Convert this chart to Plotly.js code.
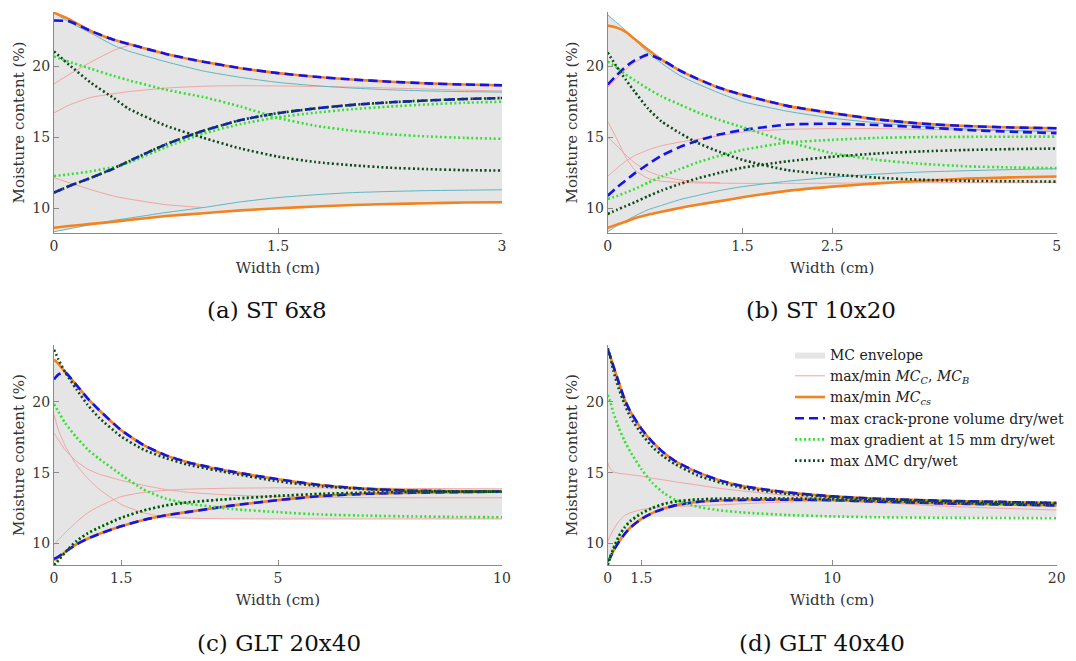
<!DOCTYPE html>
<html><head><meta charset="utf-8">
<script src="https://cdn.plot.ly/plotly-3.0.1.min.js"></script>
<style>html,body{margin:0;padding:0;background:#fff}#chart{width:1076px;height:661px}</style>
</head><body><div id="chart"></div>
<script>
// ---------- Panel (a) ST 6x8 ----------
const xA = [0, 0.1, 0.25, 0.4, 0.5, 0.75, 1, 1.25, 1.5, 1.75, 2, 2.25, 2.5, 2.75, 3];
const aEnvUpper = [23.75, 23.3, 22.45, 21.85, 21.55, 20.85, 20.3, 19.85, 19.5, 19.25, 19.05, 18.9, 18.78, 18.7, 18.65];
const aEnvLower = [8.35, 8.55, 8.85, 9.05, 9.18, 9.45, 9.65, 9.85, 10.0, 10.12, 10.23, 10.3, 10.35, 10.4, 10.42];
const aPink1 = [18.75, 19.4, 20.3, 21.1, 21.45, null, null, null, null, null, null, null, null, null, null];
const aPink2 = [16.7, 17.25, 17.8, 18.05, 18.2, 18.45, 18.58, 18.62, 18.6, 18.57, 18.52, 18.45, 18.38, 18.3, 18.25];
const aPink3 = [12.15, 11.8, 11.3, 10.85, 10.65, 10.25, 10.05, null, null, null, null, null, null, null, null];
const aCyanMax = [23.75, 23.1, 22.3, 21.45, 21.05, 20.3, 19.65, 19.2, 18.85, 18.62, 18.45, 18.33, 18.25, 18.2, 18.17];
const aCyanMin = [8.35, 8.55, 8.85, 9.15, 9.3, 9.7, 10.05, 10.45, 10.75, 10.95, 11.1, 11.18, 11.24, 11.27, 11.3];
const aCsMax = [23.75, 23.3, 22.45, 21.85, 21.55, 20.85, 20.3, 19.85, 19.5, 19.25, 19.05, 18.9, 18.78, 18.7, 18.65];
const aCsMin = [8.63, 8.75, 8.9, 9.05, 9.18, 9.45, 9.65, 9.85, 10.0, 10.12, 10.23, 10.3, 10.35, 10.4, 10.42];
const aCrackDry = [23.2, 23.15, 22.45, 21.85, 21.55, 20.85, 20.3, 19.85, 19.5, 19.25, 19.05, 18.9, 18.78, 18.7, 18.65];
const aCrackWet = [11.1, 11.55, 12.15, 12.8, 13.3, 14.5, 15.45, 16.2, 16.69, 17.02, 17.27, 17.45, 17.58, 17.68, 17.75];
const aGradDry = [20.68, 20.3, 19.8, 19.3, 19.0, 18.33, 17.82, 17.15, 16.35, 15.8, 15.45, 15.2, 15.05, 14.95, 14.88];
const aGradWet = [12.27, 12.38, 12.6, 12.9, 13.2, 14.3, 15.25, 15.92, 16.4, 16.72, 16.97, 17.15, 17.3, 17.42, 17.49];
const aDmcDry = [21.03, 20.1, 18.8, 17.75, 17.0, 15.8, 14.95, 14.2, 13.63, 13.25, 13.02, 12.85, 12.75, 12.68, 12.65];
const aDmcWet = [11.1, 11.55, 12.15, 12.8, 13.3, 14.5, 15.45, 16.2, 16.69, 17.02, 17.27, 17.45, 17.58, 17.68, 17.75];
const aTicks = [0, 1.5, 3];

// ---------- Panel (b) ST 10x20 ----------
const xB = [0, 0.1, 0.2, 0.3, 0.45, 0.6, 0.8, 1, 1.25, 1.5, 2, 2.5, 3, 3.5, 4, 4.5, 5];
const bEnvUpper = [23.6, 23.05, 22.5, 21.9, 21.15, 20.45, 19.7, 19.1, 18.45, 17.98, 17.2, 16.69, 16.25, 15.95, 15.78, 15.68, 15.63];
const bEnvLower = [8.35, 8.75, 9.05, 9.3, 9.55, 9.75, 10.02, 10.25, 10.5, 10.77, 11.22, 11.52, 11.75, 11.78, 11.8, 11.8, 11.8];
const bPink1 = [18.5, 19.15, 19.75, 20.25, 20.75, null, null, null, null, null, null, null, null, null, null, null, null];
const bPink2 = [16.1, 14.9, 13.6, 12.7, 12.1, 11.9, 11.82, 11.78, 11.76, 11.75, 11.75, 11.76, 11.78, 11.8, 11.8, 11.8, 11.8];
const bPink3 = [15.0, 14.4, 13.75, 13.2, 12.6, 12.25, 12.0, 11.85, 11.8, null, null, null, null, null, null, null, null];
const bPink4 = [12.25, 12.8, 13.3, 13.7, 14.1, 14.4, 14.65, 14.85, 15.1, 15.35, 15.55, 15.6, 15.6, 15.55, 15.5, 15.45, 15.42];
const bCyanMax = [23.6, 23.05, 22.5, 21.85, 20.95, 20.2, 19.35, 18.75, 18.08, 17.5, 16.82, 16.34, 16.0, 15.75, 15.58, 15.47, 15.4];
const bCyanMin = [8.35, 8.75, 9.1, 9.45, 9.9, 10.2, 10.6, 10.9, 11.25, 11.52, 11.9, 12.18, 12.4, 12.55, 12.64, 12.72, 12.78];
const bCsMax = [22.85, 22.7, 22.4, 21.9, 21.15, 20.45, 19.7, 19.1, 18.45, 17.98, 17.2, 16.69, 16.25, 15.95, 15.78, 15.68, 15.63];
const bCsMin = [8.63, 8.85, 9.05, 9.3, 9.55, 9.75, 10.02, 10.25, 10.5, 10.77, 11.22, 11.52, 11.75, 11.93, 12.08, 12.17, 12.23];
const bCrackDry = [18.7, 19.35, 19.95, 20.4, 20.8, 20.45, 19.7, 19.1, 18.45, 17.98, 17.2, 16.69, 16.25, 15.95, 15.78, 15.68, 15.63];
const bCrackWet = [10.88, 11.45, 11.95, 12.45, 13.1, 13.7, 14.3, 14.75, 15.2, 15.5, 15.88, 15.95, 15.85, 15.7, 15.5, 15.38, 15.28];
const bGradDry = [20.32, 19.9, 19.4, 19.0, 18.4, 17.86, 17.3, 16.75, 16.2, 15.7, 14.68, 13.87, 13.4, 13.12, 12.95, 12.87, 12.82];
const bGradWet = [10.65, 10.85, 11.1, 11.35, 11.8, 12.23, 12.75, 13.22, 13.7, 14.1, 14.62, 14.81, 14.95, 15.0, 15.02, 15.03, 15.04];
const bDmcDry = [20.95, 19.95, 19.05, 18.2, 17.0, 16.1, 15.3, 14.6, 13.95, 13.4, 12.68, 12.38, 12.15, 12.0, 11.93, 11.9, 11.87];
const bDmcWet = [9.6, 9.88, 10.15, 10.42, 10.85, 11.25, 11.7, 12.1, 12.5, 12.85, 13.3, 13.62, 13.85, 14.0, 14.1, 14.16, 14.2];
const bTicks = [0, 1.5, 2.5, 5];

// ---------- Panel (c) GLT 20x40 ----------
const xC = [0, 0.1, 0.25, 0.5, 0.75, 1, 1.5, 2, 2.5, 3, 4, 5, 6, 7, 8, 9, 10];
const cEnvUpper = [23.0, 22.7, 22.1, 21.2, 20.25, 19.45, 18.0, 16.95, 16.22, 15.72, 15.05, 14.53, 14.1, 13.9, 13.88, 13.86, 13.85];
const cEnvLower = [8.8, 9.0, 9.38, 9.92, 10.32, 10.65, 11.2, 11.65, 11.75, 11.73, 11.72, 11.72, 11.72, 11.72, 11.72, 11.72, 11.72];
const cPink1 = [9.9, 10.25, 10.75, 11.5, 12.15, 12.6, 13.3, 13.6, 13.75, 13.83, 13.9, 13.92, 13.92, 13.9, 13.88, 13.86, 13.85];
const cPink2 = [19.1, 18.0, 16.9, 15.55, 14.6, 13.85, 12.75, 12.15, 11.85, 11.77, 11.73, 11.72, 11.72, 11.72, 11.72, 11.72, 11.72];
const cPink3 = [17.8, 17.3, 16.6, 15.8, 15.25, 14.9, 14.45, 14.1, 13.8, 13.6, 13.4, 13.3, 13.25, 13.23, 13.22, 13.22, 13.22];
const cCsMax = [23.0, 22.7, 22.1, 21.2, 20.25, 19.45, 18.0, 16.95, 16.22, 15.72, 15.05, 14.53, 14.1, 13.85, 13.72, 13.67, 13.65];
const cCsMin = [8.8, 9.0, 9.38, 9.92, 10.32, 10.65, 11.2, 11.65, 11.98, 12.22, 12.68, 13.05, 13.35, 13.5, 13.57, 13.62, 13.65];
const cCrackDry = [21.6, 21.95, 22.1, 21.2, 20.25, 19.45, 18.0, 16.95, 16.22, 15.72, 15.05, 14.53, 14.1, 13.85, 13.72, 13.67, 13.65];
const cCrackWet = [8.9, 9.05, 9.4, 9.92, 10.32, 10.65, 11.2, 11.65, 11.98, 12.22, 12.68, 13.05, 13.35, 13.5, 13.57, 13.62, 13.65];
const cGradDry = [19.85, 19.3, 18.5, 17.5, 16.65, 16.0, 14.85, 13.8, 13.15, 12.8, 12.42, 12.2, 12.03, 11.95, 11.9, 11.86, 11.84];
const cGradWet = [8.45, 8.8, 9.35, 10.15, 10.7, 11.1, 11.8, 12.32, 12.68, 12.9, 13.15, 13.35, 13.5, 13.58, 13.63, 13.65, 13.66];
const cDmcDry = [23.7, 23.0, 22.1, 20.9, 19.8, 18.9, 17.55, 16.62, 16.02, 15.55, 14.93, 14.38, 14.02, 13.82, 13.72, 13.67, 13.65];
const cDmcWet = [8.45, 8.8, 9.35, 10.15, 10.7, 11.1, 11.8, 12.32, 12.68, 12.9, 13.15, 13.35, 13.5, 13.58, 13.63, 13.65, 13.66];
const cTicks = [0, 1.5, 5, 10];

// ---------- Panel (d) GLT 40x40 ----------
const xD = [0, 0.1, 0.25, 0.5, 0.75, 1, 1.5, 2, 2.5, 3, 4, 5, 6, 8, 10, 12, 15, 20];
const dEnvUpper = [23.7, 23.3, 22.55, 21.35, 20.2, 19.35, 18.1, 17.15, 16.4, 15.82, 15.03, 14.45, 14.05, 13.6, 13.32, 13.15, 13.0, 12.85];
const dEnvLower = [8.7, 8.95, 9.45, 10.1, 10.65, 11.1, 11.72, 11.85, 11.85, 11.85, 11.85, 11.85, 11.85, 11.85, 11.85, 11.85, 11.85, 11.85];
const dPink1 = [15.7, 15.3, 15.05, 14.95, 14.9, 14.85, 14.75, 14.6, 14.48, 14.35, 14.12, 13.88, 13.7, 13.38, 13.12, 12.9, 12.62, 12.35];
const dPink2 = [10.1, 10.5, 10.95, 11.55, 11.95, 12.15, 12.38, 12.5, 12.55, 12.6, 12.65, 12.72, 12.8, 12.92, 13.0, 12.95, 12.85, 12.7];
const dCsMax = [23.7, 23.3, 22.55, 21.35, 20.2, 19.35, 18.1, 17.15, 16.4, 15.82, 15.03, 14.45, 14.05, 13.6, 13.32, 13.15, 13.0, 12.85];
const dCsMin = [8.7, 8.95, 9.45, 10.1, 10.65, 11.1, 11.72, 12.15, 12.45, 12.68, 12.93, 13.03, 13.07, 13.09, 13.05, 12.95, 12.82, 12.68];
const dCrackDry = [23.7, 23.3, 22.55, 21.35, 20.2, 19.35, 18.1, 17.15, 16.4, 15.82, 15.03, 14.45, 14.05, 13.6, 13.32, 13.15, 13.0, 12.85];
const dCrackWet = [8.75, 8.95, 9.45, 10.1, 10.65, 11.1, 11.72, 12.15, 12.45, 12.68, 12.93, 13.03, 13.07, 13.09, 13.05, 12.95, 12.82, 12.68];
const dGradDry = [20.5, 20.1, 19.25, 18.15, 17.25, 16.5, 15.25, 14.25, 13.55, 13.08, 12.58, 12.33, 12.18, 12.0, 11.9, 11.84, 11.8, 11.77];
const dGradWet = [8.5, 9.0, 9.65, 10.55, 11.15, 11.6, 12.15, 12.52, 12.8, 12.96, 13.1, 13.15, 13.17, 13.17, 13.12, 13.02, 12.88, 12.72];
const dDmcDry = [23.8, 23.3, 22.2, 20.9, 19.85, 18.95, 17.75, 16.8, 16.12, 15.6, 14.8, 14.3, 13.93, 13.5, 13.28, 13.12, 12.98, 12.85];
const dDmcWet = [8.45, 8.95, 9.6, 10.5, 11.1, 11.55, 12.1, 12.5, 12.78, 12.95, 13.1, 13.15, 13.17, 13.17, 13.12, 13.02, 12.88, 12.72];
const dTicks = [0, 1.5, 10, 20];

const captions = ['(a) ST 6x8', '(b) ST 10x20', '(c) GLT 20x40', '(d) GLT 40x40'];
const legendNames = ['MC envelope', 'max/min <i>MC</i><sub><i>C</i></sub>, <i>MC</i><sub><i>B</i></sub>',
  'max/min <i>MC</i><sub><i>cs</i></sub>', 'max crack-prone volume dry/wet',
  'max gradient at 15 mm dry/wet', 'max \u0394MC dry/wet'];

// ---------- styling ----------
const C = {env:'#e5e5e5', pink:'#f3a3a3', cyan:'#5db6c2', orange:'#f5821f', blue:'#1414e6', green:'#34e034', dark:'#0e4a1c'};
const SERIF = 'DejaVu Serif';
const traces = [];
function L(x, y, k, color, width, dash, legIdx) {
  const t = {type:'scatter', mode:'lines', x:x, y:y, xaxis:'x'+k, yaxis:'y'+k,
    line:{color:color, width:width, dash:dash || 'solid', shape:'spline', smoothing:0.5},
    hoverinfo:'skip', showlegend: legIdx !== undefined, connectgaps:false};
  if (legIdx !== undefined) t.name = legendNames[legIdx];
  traces.push(t);
}
function panel(k, x, P, first) {
  traces.push({type:'scatter', mode:'lines', x:x, y:P.envLower, xaxis:'x'+k, yaxis:'y'+k,
    line:{width:0, color:C.env, shape:'spline', smoothing:0.5}, hoverinfo:'skip', showlegend:false});
  traces.push({type:'scatter', mode:'lines', x:x, y:P.envUpper, xaxis:'x'+k, yaxis:'y'+k,
    line:{width:0, color:C.env, shape:'spline', smoothing:0.5}, fill:'tonexty', fillcolor:C.env,
    hoverinfo:'skip', showlegend:first, name:legendNames[0]});
  P.pinks.forEach((p, i) => L(x, p, k, C.pink, 1, 'solid', (first && i === 0) ? 1 : undefined));
  P.cyans.forEach(p => L(x, p, k, C.cyan, 1, 'solid'));
  L(x, P.csMax, k, C.orange, 2.6, 'solid', first ? 2 : undefined);
  L(x, P.csMin, k, C.orange, 2.6, 'solid');
  L(x, P.crackDry, k, C.blue, 2.6, '9px,5px', first ? 3 : undefined);
  L(x, P.crackWet, k, C.blue, 2.6, '9px,5px');
  L(x, P.gradDry, k, C.green, 2.6, '2px,2.5px', first ? 4 : undefined);
  L(x, P.gradWet, k, C.green, 2.6, '2px,2.5px');
  L(x, P.dmcDry, k, C.dark, 2.6, '2px,2.5px', first ? 5 : undefined);
  L(x, P.dmcWet, k, C.dark, 2.6, '2px,2.5px');
}
panel('', xA, {envUpper:aEnvUpper, envLower:aEnvLower, pinks:[aPink1, aPink2, aPink3], cyans:[aCyanMax, aCyanMin],
  csMax:aCsMax, csMin:aCsMin, crackDry:aCrackDry, crackWet:aCrackWet, gradDry:aGradDry, gradWet:aGradWet, dmcDry:aDmcDry, dmcWet:aDmcWet}, true);
panel('2', xB, {envUpper:bEnvUpper, envLower:bEnvLower, pinks:[bPink1, bPink2, bPink3, bPink4], cyans:[bCyanMax, bCyanMin],
  csMax:bCsMax, csMin:bCsMin, crackDry:bCrackDry, crackWet:bCrackWet, gradDry:bGradDry, gradWet:bGradWet, dmcDry:bDmcDry, dmcWet:bDmcWet}, false);
panel('3', xC, {envUpper:cEnvUpper, envLower:cEnvLower, pinks:[cPink1, cPink2, cPink3], cyans:[],
  csMax:cCsMax, csMin:cCsMin, crackDry:cCrackDry, crackWet:cCrackWet, gradDry:cGradDry, gradWet:cGradWet, dmcDry:cDmcDry, dmcWet:cDmcWet}, false);
panel('4', xD, {envUpper:dEnvUpper, envLower:dEnvLower, pinks:[dPink1, dPink2], cyans:[],
  csMax:dCsMax, csMin:dCsMin, crackDry:dCrackDry, crackWet:dCrackWet, gradDry:dGradDry, gradWet:dGradWet, dmcDry:dDmcDry, dmcWet:dDmcWet}, false);

const W = 1076, H = 661;
const axCommon = {showline:true, linecolor:'#8a8a8a', linewidth:1, ticks:'inside', ticklen:5, tickcolor:'#8a8a8a',
  showgrid:false, zeroline:false, tickfont:{family:SERIF, size:14, color:'#333'}, automargin:false, fixedrange:true};
function xax(dom, range, ticks, anchor) {
  return Object.assign({}, axCommon, {domain:dom, range:range, tickvals:ticks, ticktext:ticks.map(String), anchor:anchor,
    title:{text:'Width (cm)', font:{family:SERIF, size:15, color:'#333'}, standoff:9}});
}
function yax(dom, range, anchor) {
  return Object.assign({}, axCommon, {domain:dom, range:range, tickvals:[10, 15, 20], ticktext:['10','15','20'], anchor:anchor,
    title:{text:'Moisture content (%)', font:{family:SERIF, size:15, color:'#333'}, standoff:4}});
}
const colL = [54/W, 502/W], colR = [607.7/W, 1056.7/W];
const rowT = [1 - 233/H, 1 - 12/H], rowB = [1 - 565.3/H, 1 - 345/H];
const layout = {
  width:W, height:H, margin:{l:0, r:0, t:0, b:0}, paper_bgcolor:'#fff', plot_bgcolor:'rgba(0,0,0,0)',
  font:{family:SERIF, color:'#222'},
  xaxis: xax(colL, [0, 3], aTicks, 'y'),  yaxis: yax(rowT, [8.26, 23.8], 'x'),
  xaxis2: xax(colR, [0, 5], bTicks, 'y2'), yaxis2: yax(rowT, [8.26, 23.8], 'x2'),
  xaxis3: xax(colL, [0, 10], cTicks, 'y3'), yaxis3: yax(rowB, [8.44, 24.03], 'x3'),
  xaxis4: xax(colR, [0, 20], dTicks, 'y4'), yaxis4: yax(rowB, [8.44, 24.03], 'x4'),
  legend:{x:790/W, y:1 - 339/H, xanchor:'left', yanchor:'top', bgcolor:'rgba(0,0,0,0)', borderwidth:0,
    font:{family:SERIF, size:14, color:'#222'}, tracegroupgap:0, itemwidth:30, traceorder:'normal'},
  annotations: [
    {text:captions[0], x:267/W, y:1 - 310/H}, {text:captions[1], x:821/W, y:1 - 310/H},
    {text:captions[2], x:279/W, y:1 - 643/H}, {text:captions[3], x:822/W, y:1 - 643/H}
  ].map(a => Object.assign(a, {xref:'paper', yref:'paper', showarrow:false, xanchor:'center', yanchor:'middle',
    font:{family:SERIF, size:23, color:'#111'}}))
};
Plotly.newPlot('chart', traces, layout, {staticPlot:true, displayModeBar:false});
</script></body></html>
